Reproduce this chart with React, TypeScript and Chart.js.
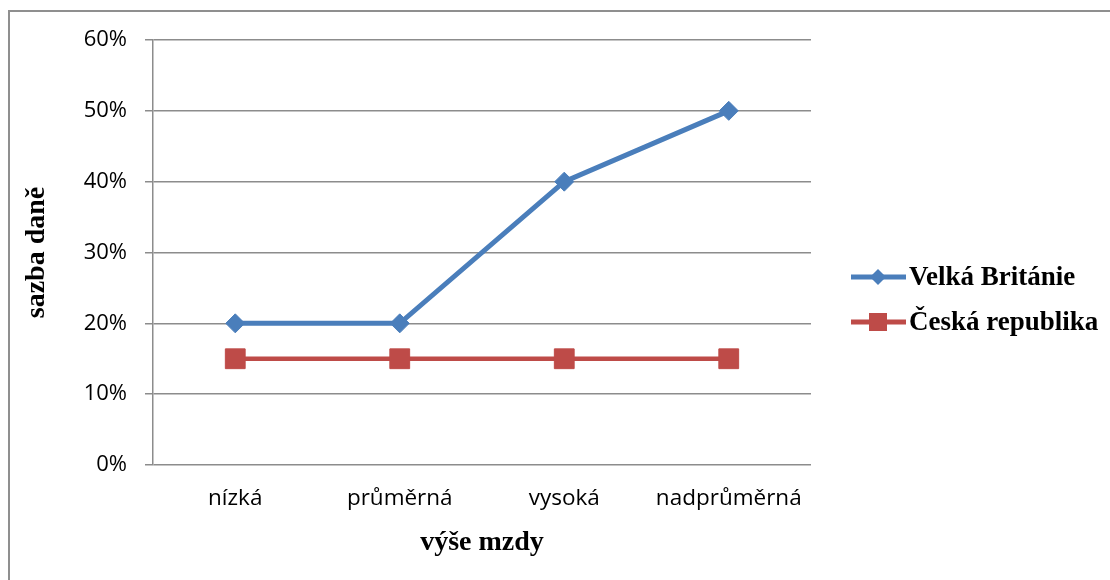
import React, { useEffect, useRef } from "react";
import { Chart, registerables } from "chart.js";

Chart.register(...registerables);

const categories = ["nízká", "průměrná", "vysoká", "nadprůměrná"];
const seriesNames = ["Velká Británie", "Česká republika"];
const velkaBritanie = [20, 20, 40, 50];
const ceskaRepublika = [15, 15, 15, 15];
const yTicks = [0, 10, 20, 30, 40, 50, 60];
const xTitle = "výše mzdy";
const yTitle = "sazba daně";

const BLUE = "#4A7EBB";
const RED = "#BE4B48";
const GRID = "#8c8c8c";
const SERIF = "'Liberation Serif', 'Times New Roman', serif";
const SANS = "'Open Sans', 'Noto Sans', sans-serif";

const legendPlugin = {
  id: "customLegend",
  afterDraw(chart: any) {
    const ctx = chart.ctx;
    const items = [
      { y: 277, color: BLUE, style: "diamond", label: seriesNames[0] },
      { y: 322, color: RED, style: "square", label: seriesNames[1] },
    ];
    ctx.save();
    items.forEach((it) => {
      ctx.strokeStyle = it.color;
      ctx.lineWidth = 5;
      ctx.beginPath();
      ctx.moveTo(851, it.y);
      ctx.lineTo(906, it.y);
      ctx.stroke();
      ctx.fillStyle = it.color;
      ctx.beginPath();
      const cx = 878;
      if (it.style === "diamond") {
        const r = 8;
        ctx.moveTo(cx - r, it.y);
        ctx.lineTo(cx, it.y - r);
        ctx.lineTo(cx + r, it.y);
        ctx.lineTo(cx, it.y + r);
        ctx.closePath();
      } else {
        const h = 9;
        ctx.rect(cx - h, it.y - h, 2 * h, 2 * h);
      }
      ctx.fill();
      ctx.fillStyle = "#000";
      ctx.font = `bold 27px ${SERIF}`;
      ctx.textAlign = "left";
      ctx.textBaseline = "middle";
      ctx.fillText(it.label, 909, it.y + 1);
    });
    ctx.restore();
  },
};

export default function App() {
  const canvasRef = useRef<HTMLCanvasElement | null>(null);

  useEffect(() => {
    const canvas = canvasRef.current;
    if (!canvas) return;
    const chart = new Chart(canvas, {
      type: "line",
      data: {
        labels: categories,
        datasets: [
          {
            label: seriesNames[0],
            data: velkaBritanie,
            borderColor: BLUE,
            backgroundColor: BLUE,
            borderWidth: 5,
            pointStyle: "rectRot",
            pointRadius: 9.5,
            pointBorderWidth: 1,
            pointBackgroundColor: BLUE,
            pointBorderColor: BLUE,
            tension: 0,
          },
          {
            label: seriesNames[1],
            data: ceskaRepublika,
            borderColor: RED,
            backgroundColor: RED,
            borderWidth: 4.5,
            pointStyle: "rect",
            pointRadius: 14,
            pointBorderWidth: 1,
            pointBackgroundColor: RED,
            pointBorderColor: RED,
            tension: 0,
          },
        ],
      },
      options: {
        responsive: false,
        animation: false,
        devicePixelRatio: 1,
        layout: { padding: { left: 0, top: 40, right: 299, bottom: 0 } },
        plugins: {
          legend: { display: false },
          tooltip: { enabled: false },
        },
        scales: {
          x: {
            offset: true,
            grid: { display: false, drawTicks: false },
            border: { display: false },
            ticks: {
              color: "#000",
              font: { family: SANS, size: 22.5 },
              padding: 20,
              maxRotation: 0,
            },
            title: {
              display: true,
              text: xTitle,
              color: "#000",
              font: { family: SERIF, size: 28, weight: "bold" },
              padding: { top: 0, bottom: 20 },
            },
            afterFit: (scale: any) => {
              scale.height = 115;
            },
          },
          y: {
            min: 0,
            max: 60,
            afterBuildTicks: (scale: any) => {
              scale.ticks = yTicks.map((v) => ({ value: v }));
            },
            grid: {
              color: GRID,
              lineWidth: 1.5,
              drawTicks: true,
              tickLength: 8,
            },
            border: { display: true, color: GRID, width: 1.5 },
            ticks: {
              color: "#000",
              font: { family: SANS, size: 22 },
              padding: 18,
              callback: (v: any) => `${v}%`,
            },
            title: {
              display: true,
              text: yTitle,
              color: "#000",
              font: { family: SERIF, size: 28, weight: "bold" },
              padding: { top: 20, bottom: 0 },
            },
            afterFit: (scale: any) => {
              scale.width = 153;
            },
          },
        },
      },
      plugins: [legendPlugin],
    });
    return () => chart.destroy();
  }, []);

  return (
    <div
      style={{
        position: "fixed",
        left: 0,
        top: 0,
        width: 1110,
        height: 580,
        overflow: "hidden",
        background: "#fff",
      }}
    >
      <div
        style={{
          position: "absolute",
          left: 8,
          top: 10,
          width: 1300,
          height: 800,
          borderLeft: "2px solid #8f8f8f",
          borderTop: "2px solid #8f8f8f",
        }}
      />
      <canvas
        ref={canvasRef}
        width={1110}
        height={580}
        style={{ position: "absolute", left: 0, top: 0, width: 1110, height: 580 }}
      />
    </div>
  );
}
